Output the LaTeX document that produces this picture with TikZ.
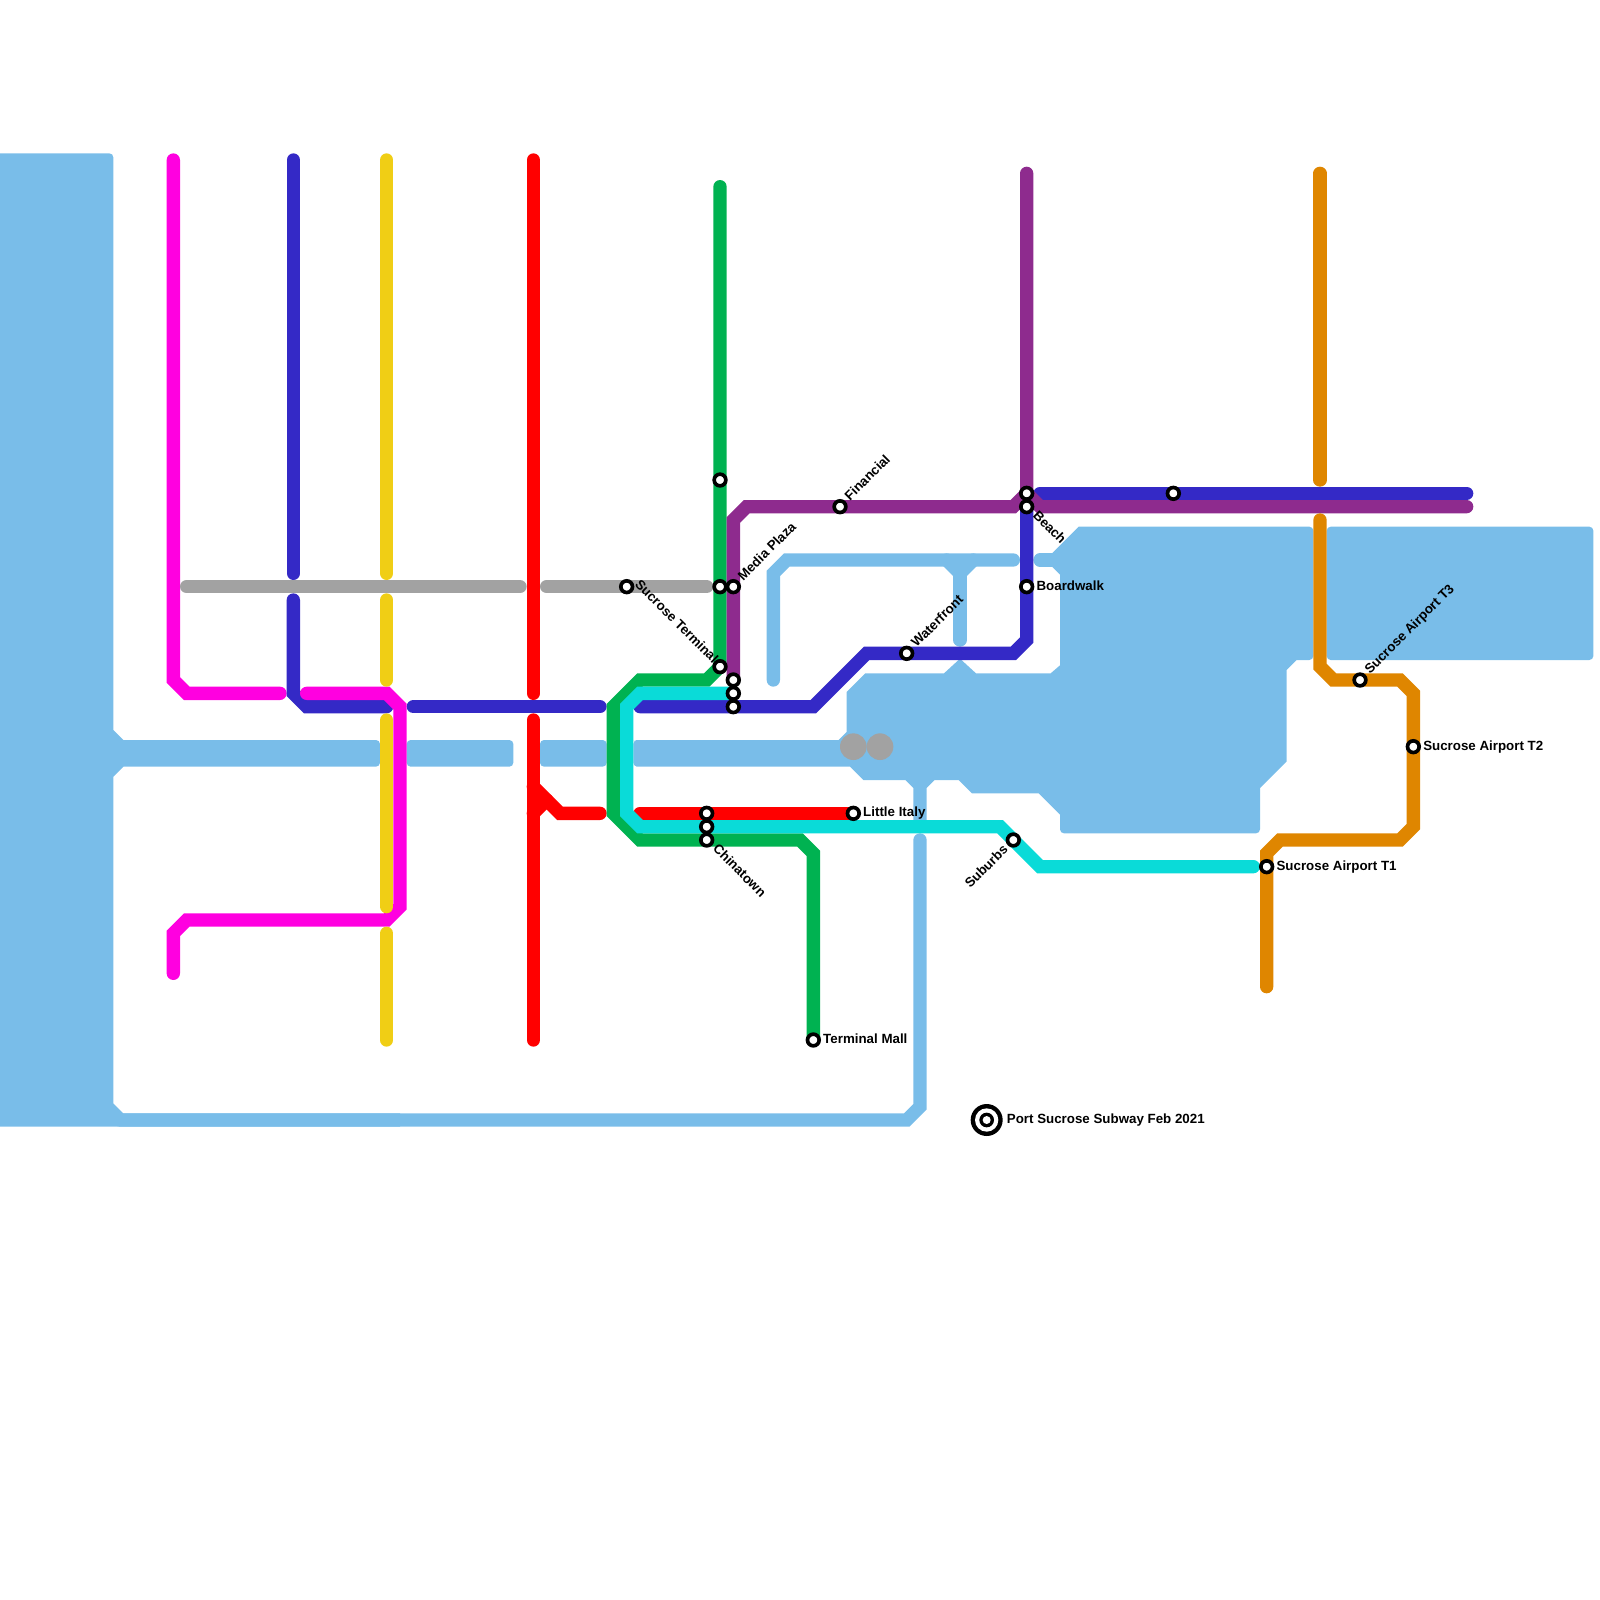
\documentclass[tikz,border=0pt]{standalone}
\usepackage{fontspec}
\setmainfont{Liberation Sans}
\usepackage{xcolor}
\usetikzlibrary{backgrounds}
\definecolor{wtr}{HTML}{79BDE9}
\definecolor{mred}{HTML}{FF0000}
\definecolor{mblue}{HTML}{3429C6}
\definecolor{mgreen}{HTML}{00B251}
\definecolor{mpurple}{HTML}{8E2B8E}
\definecolor{mcyan}{HTML}{0ADBD8}
\definecolor{mpink}{HTML}{FF00E0}
\definecolor{myellow}{HTML}{F0CE15}
\definecolor{mgrey}{HTML}{A2A2A2}
\definecolor{morange}{HTML}{DF8600}

\begin{document}
\begin{tikzpicture}[
    x=0.4cm, y=-0.4cm,
    line/.style={line width=0.4cm, line cap=round, miter limit=3},
    wline/.style={line, draw=wtr},
    wblock/.style={fill=wtr},
    stn/.style={circle, draw=black, fill=white, line width=0.11cm, minimum size=0.35cm, inner sep=0pt},
    disc/.style={circle, fill=#1, minimum size=0.8cm, inner sep=0pt},
    lbl/.style={font=\fontsize{11.38}{13}\selectfont\bfseries, inner sep=0pt, inner xsep=0.32cm},
    lble/.style={lbl, inner xsep=0.29cm, anchor=base west, yshift=-0.1cm},
    lblne/.style={lbl, anchor=base west, xshift=0.07cm, yshift=-0.07cm, rotate=45},
    lblse/.style={lbl, anchor=base west, xshift=-0.06cm, yshift=-0.06cm, rotate=-45},
    lblsw/.style={lbl, anchor=base east, xshift=0.09cm, yshift=-0.09cm, rotate=45},
]
    \useasboundingbox (0,0) rectangle (120,120);

    % Stations
    \node[stn] (grnA) at (54,36) {};
    \node[stn] (grnB) at (54,44) {};
    \node[stn] (media) at (55,44) {};
    \node[stn] (sterm) at (47,44) {};
    \node[stn] (grnC) at (54,50) {};
    \node[stn] (hubA) at (55,51) {};
    \node[stn] (hubB) at (55,52) {};
    \node[stn] (hubC) at (55,53) {};
    \node[stn] (hubD) at (53,61) {};
    \node[stn] (hubE) at (53,62) {};
    \node[stn] (china) at (53,63) {};
    \node[stn] (fin) at (63,38) {};
    \node[stn] (italy) at (64,61) {};
    \node[stn] (wfront) at (68,49) {};
    \node[stn] (bluA) at (77,37) {};
    \node[stn] (beach) at (77,38) {};
    \node[stn] (board) at (77,44) {};
    \node[stn] (bluB) at (88,37) {};
    \node[stn] (suburb) at (76,63) {};
    \node[stn] (tmall) at (61,78) {};
    \node[stn] (tone) at (95,65) {};
    \node[stn] (ttwo) at (106,56) {};
    \node[stn] (tthree) at (102,51) {};

    % Station names
    \node[lblne] at (fin) {Financial};
    \node[lblne] at (media) {Media Plaza};
    \node[lblne] at (wfront) {Waterfront};
    \node[lblne] at (tthree) {Sucrose Airport T3};
    \node[lblse] at ([shift={(0.06cm,0.33cm)}]sterm.center) {Sucrose Terminal};
    \node[lblse] at (beach) {Beach};
    \node[lblse] at (china) {Chinatown};
    \node[lblsw] at (suburb) {Suburbs};
    \node[lble] at (board) {Boardwalk};
    \node[lble] at (italy) {Little Italy};
    \node[lble] at (tmall) {Terminal Mall};
    \node[lble] at (tone) {Sucrose Airport T1};
    \node[lble] at (ttwo) {Sucrose Airport T2};

    % Title
    \node[circle, fill=black, minimum size=0.96cm, inner sep=0pt] (ttl) at (74,84) {};
    \node[circle, fill=white, minimum size=0.70cm, inner sep=0pt] (ttlA) at (ttl) {};
    \node[circle, fill=black, minimum size=0.44cm, inner sep=0pt] (ttlB) at (ttl) {};
    \node[circle, fill=white, minimum size=0.24cm, inner sep=0pt] (ttlC) at (ttl) {};
    \node[lbl, anchor=base west, inner xsep=0pt, yshift=-0.1cm] (title) at (75.5,84) {Port Sucrose Subway Feb 2021};

    \begin{scope}[on background layer]
    % --- Water ---
    \fill[wblock, rounded corners=1.2mm] (0,11.5) -- (8.5,11.5) -- (8.5,30) [sharp corners]
        -- (8.5,54.75) -- (9.25,55.5) [rounded corners=1.2mm] -- (28.5,55.5) -- (28.5,57.5) [sharp corners]
        -- (9.25,57.5) -- (8.5,58.25) -- (8.5,82.75) -- (9.25,83.5) -- (30,83.5) -- (30,84.5) -- (0,84.5) -- cycle;
    \fill[wblock, rounded corners=1.2mm] (30.5,55.5) rectangle (38.5,57.5);
    \fill[wblock, rounded corners=1.2mm] (40.5,55.5) rectangle (45.5,57.5);
    \fill[wblock, rounded corners=1.2mm] (99.5,39.5) rectangle (119.5,49.5);
    \fill[wblock] (47.7,55.5) -- (62.9,55.5) -- (63.5,54.9) -- (63.5,51.9) -- (64.9,50.5) -- (70.8,50.5)
        -- (72,49.4) -- (73.2,50.5) -- (78.8,50.5) -- (79.5,49.9) -- (79.5,43.1) -- (78.9,42.5) -- (78.9,41.5) -- (80.9,39.5)
        [rounded corners=1.2mm] -- (98.5,39.5) -- (98.5,49.5) [sharp corners] -- (97.25,49.5) -- (96.5,50.25) -- (96.5,57.1)
        -- (94.5,59.1) [rounded corners=1.2mm] -- (94.5,62.5) -- (79.5,62.5) [sharp corners] -- (79.5,61.1) -- (77.9,59.5)
        -- (72.9,59.5) -- (71.9,58.5) -- (70.1,58.5) -- (69.5,59.1) -- (69.5,61.5) -- (68.5,61.5) -- (68.5,59.1)
        -- (67.9,58.5) -- (64.75,58.5) -- (63.75,57.5) -- (47.7,57.5) [rounded corners=1.2mm] -- (47.5,57.5) -- (47.5,55.5) -- cycle;
    \draw[wline] (58,51) -- (58,43) -- (59,42) -- (76,42);
    \draw[wline] (71,42) -- (72,43) -- (73,42);
    \draw[wline] (72,43) -- (72,48);
    \draw[wline] (78,42) -- (79.5,42);
    \draw[wline] (69,63) -- (69,83) -- (68,84) -- (9,84);

    % --- Lines ---
    \draw[line, mpink] (13,12) -- (13,51) -- (14,52) -- (21,52);

    \draw[line, mblue] (22,12) -- (22,43);
    \draw[line, mblue] (22,45) -- (22,52) -- (23,53) -- (29,53);
    \draw[line, mblue] (31,53) -- (45,53);
    \draw[line, mblue] (48,53) -- (61,53) -- (65,49) -- (76,49) -- (77,48) -- (beach.center);
    \draw[line, mblue] (78,37) -- (110,37);

    \draw[line, mpink] (23,52) -- (29,52) -- (30,53) -- (30,68) -- (29,69) -- (14,69) -- (13,70) -- (13,73);

    \draw[line, myellow] (29,12) -- (29,43);
    \draw[line, myellow] (29,45) -- (29,51);
    \draw[line, myellow] (29,54) -- (29,68);
    \draw[line, myellow] (29,70) -- (29,78);

    \draw[line, mgrey] (14,44) -- (39,44);
    \draw[line, mgrey] (41,44) -- (53,44);

    \draw[line, mred] (40,12) -- (40,52);
    \draw[line, mred] (40,54) -- (40,78);
    \draw[line, mred] (40,59) -- (42,61) -- (45,61);
    \draw[line, mred] (40,61) -- (41,60);
    \draw[line, mred] (48,61) -- (italy.center);

    \draw[line, mgreen] (54,14) -- (grnC.center) -- (53,51) -- (48,51) -- (46,53) -- (46,61) -- (48,63) -- (60,63) -- (61,64) -- (tmall.center);

    \draw[line, mpurple] (77,13) -- (bluA.center) -- (76,38) -- (56,38) -- (55,39) -- (hubA.center);
    \draw[line, mpurple] (bluA.center) -- (78,38) -- (110,38);

    \draw[line, morange] (99,13) -- (99,36);
    \draw[line, morange] (99,39) -- (99,50) -- (100,51) -- (105,51) -- (106,52) -- (106,62) -- (105,63) -- (96,63) -- (95,64) -- (95,74);

    \draw[line, mcyan] (hubB.center) -- (48,52) -- (47,53) -- (47,61) -- (48,62) -- (75,62) -- (78,65) -- (94,65);

    % Grey discs on the water
    \node[disc=mgrey] (gdA) at (64,56) {};
    \node[disc=mgrey] (gdB) at (66,56) {};
    \end{scope}
\end{tikzpicture}
\end{document}
